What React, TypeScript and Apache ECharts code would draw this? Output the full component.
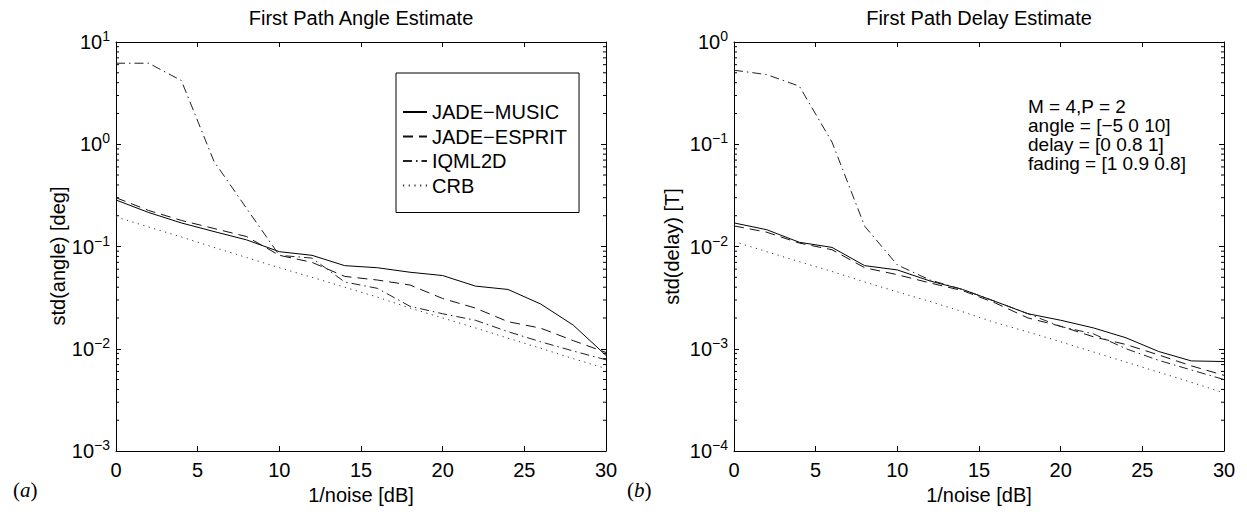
import React, { useEffect, useRef } from 'react';
import * as echarts from 'echarts';

// 1/noise [dB]
const snr = [0, 2, 4, 6, 8, 10, 12, 14, 16, 18, 20, 22, 24, 26, 28, 30];

// (a) First Path Angle Estimate, std(angle) [deg]
const angleMusic = [0.285, 0.215, 0.17, 0.14, 0.116, 0.089, 0.082, 0.065, 0.062, 0.056, 0.052, 0.041, 0.038, 0.0274, 0.017, 0.0086];
const angleEsprit = [0.3, 0.225, 0.18, 0.15, 0.125, 0.082, 0.07, 0.051, 0.047, 0.042, 0.031, 0.025, 0.0184, 0.0159, 0.012, 0.0092];
const angleIqml = [6.2, 6.2, 4.2, 0.68, 0.235, 0.082, 0.077, 0.045, 0.039, 0.026, 0.022, 0.019, 0.0147, 0.0117, 0.0095, 0.0078];
const angleCrb = [0.195, 0.155, 0.124, 0.098, 0.078, 0.062, 0.05, 0.04, 0.032, 0.025, 0.02, 0.016, 0.0127, 0.0101, 0.008, 0.0064];

// (b) First Path Delay Estimate, std(delay) [T]
const delayMusic = [0.017, 0.0146, 0.011, 0.0098, 0.0065, 0.0059, 0.0046, 0.0038, 0.0029, 0.0022, 0.0019, 0.0016, 0.00128, 0.00094, 0.00076, 0.00075];
const delayEsprit = [0.0159, 0.0138, 0.0108, 0.0093, 0.0062, 0.0053, 0.0044, 0.0037, 0.0028, 0.002, 0.00166, 0.00131, 0.0011, 0.00087, 0.00068, 0.00055];
const delayIqml = [0.53, 0.48, 0.37, 0.105, 0.0158, 0.0066, 0.0047, 0.0038, 0.0029, 0.0022, 0.00165, 0.0014, 0.001, 0.00077, 0.00062, 0.0005];
const delayCrb = [0.0112, 0.0089, 0.0071, 0.0057, 0.0045, 0.0036, 0.0029, 0.0023, 0.0018, 0.00146, 0.00117, 0.00093, 0.00074, 0.00059, 0.00047, 0.00037];

const seriesNames = ['JADE−MUSIC', 'JADE−ESPRIT', 'IQML2D', 'CRB'];
const titles = ['First Path Angle Estimate', 'First Path Delay Estimate'];
const yNames = ['std(angle) [deg]', 'std(delay) [T]'];
const xName = '1/noise [dB]';
const panelLetters = ['a', 'b'];
const noteLines = ['M = 4,P = 2', 'angle = [−5 0 10]', 'delay = [0 0.8 1]', 'fading = [1 0.9 0.8]'];
const yRanges = [
  [-3, 1],
  [-4, 0],
];

const FONT = '"Liberation Sans", Arial, Helvetica, sans-serif';
const SERIF = '"Liberation Serif", "DejaVu Serif", serif';

export default function App() {
  const ref = useRef<HTMLDivElement>(null);

  useEffect(() => {
    document.body.style.margin = '0';
    const chart = echarts.init(ref.current!, null, { renderer: 'svg' });

    const grids = [
      { left: 116, top: 42, width: 490, height: 409 },
      { left: 734, top: 42, width: 490, height: 409 },
    ];

    const lineTypes: any[] = ['solid', [10, 6], [9, 4, 1.5, 4], [1.2, 4.5]];
    const colors = ['#000', '#111', '#222', '#333'];

    const xBase = (gi: number, top: boolean) => ({
      type: 'value',
      gridIndex: gi,
      position: top ? 'top' : 'bottom',
      min: 0,
      max: 30,
      interval: 5,
      axisLine: { show: true, onZero: false, lineStyle: { color: '#000', width: 1 } },
      axisTick: { show: true, inside: true, length: 5, lineStyle: { color: '#000', width: 1 } },
      axisLabel: { show: !top, color: '#000', fontSize: 20, fontFamily: FONT, margin: 9 },
      splitLine: { show: false },
      name: top ? '' : xName,
      nameLocation: 'middle',
      nameGap: 33,
      nameTextStyle: { color: '#000', fontSize: 20, fontFamily: FONT },
    });

    const yBase = (gi: number, right: boolean) => ({
      type: 'log',
      logBase: 10,
      gridIndex: gi,
      position: right ? 'right' : 'left',
      min: Math.pow(10, yRanges[gi][0]),
      max: Math.pow(10, yRanges[gi][1]),
      axisLine: { show: true, onZero: false, lineStyle: { color: '#000', width: 1 } },
      axisTick: { show: true, inside: true, length: 5, lineStyle: { color: '#000', width: 1 } },
      axisLabel: {
        show: !right,
        margin: 6,
        formatter: (v: number) => {
          const e = Math.round(Math.log10(v));
          return `{b|10}{s|${e < 0 ? '−' + -e : e}}`;
        },
        rich: {
          b: { fontSize: 20, fontFamily: FONT, color: '#000' },
          s: { fontSize: 14, fontFamily: FONT, color: '#000', padding: [0, 0, 12, 0] },
        },
      },
      splitLine: { show: false },
    });

    const sets = [
      [angleMusic, angleEsprit, angleIqml, angleCrb],
      [delayMusic, delayEsprit, delayIqml, delayCrb],
    ];

    const series: any[] = [];
    sets.forEach((arrs, gi) => {
      arrs.forEach((arr, si) => {
        series.push({
          type: 'line',
          name: seriesNames[si],
          xAxisIndex: gi * 2,
          yAxisIndex: gi * 2,
          data: snr.map((x, i) => [x, arr[i]]),
          symbol: 'none',
          showSymbol: false,
          lineStyle: { color: colors[si], width: 1, type: lineTypes[si] },
          itemStyle: { color: colors[si] },
          z: 3,
        });
      });
    });

    const baseGraphics = (): any[] => {
      const g: any[] = [];
      grids.forEach((gr, gi) => {
        g.push({
          type: 'text',
          x: gr.left + gr.width / 2,
          y: 18,
          style: { text: titles[gi], fontSize: 20, fontFamily: FONT, fill: '#000', align: 'center', verticalAlign: 'middle' },
        });
        g.push({
          type: 'text',
          x: gi === 0 ? 58 : 672,
          y: gi === 0 ? 256 : gr.top + gr.height / 2,
          rotation: Math.PI / 2,
          style: { text: yNames[gi], fontSize: 20, fontFamily: FONT, fill: '#000', align: 'center', verticalAlign: 'middle' },
        });
        g.push({
          type: 'text',
          x: gi === 0 ? 13 : 627,
          y: 490,
          style: {
            text: `{p|(}{i|${panelLetters[gi]}}{p|)}`,
            align: 'left',
            verticalAlign: 'middle',
            rich: {
              p: { fontSize: 21, fontFamily: SERIF, fill: '#000' },
              i: { fontSize: 21, fontFamily: SERIF, fontStyle: 'italic', fill: '#000' },
            },
          },
        });
      });
      noteLines.forEach((t, i) => {
        g.push({
          type: 'text',
          x: 1028,
          y: 106 + i * 19,
          style: { text: t, fontSize: 19, fontFamily: FONT, fill: '#000', align: 'left', verticalAlign: 'middle' },
        });
      });
      return g;
    };

    chart.setOption({
      animation: false,
      backgroundColor: '#fff',
      grid: grids.map((g) => ({ ...g, containLabel: false })),
      xAxis: [xBase(0, false), xBase(0, true), xBase(1, false), xBase(1, true)],
      yAxis: [yBase(0, false), yBase(0, true), yBase(1, false), yBase(1, true)],
      legend: {
        data: seriesNames,
        orient: 'vertical',
        left: 396,
        top: 73,
        borderColor: '#000',
        borderWidth: 1,
        backgroundColor: '#fff',
        padding: [29, 12, 17, 6],
        itemGap: 4.5,
        itemWidth: 24,
        itemHeight: 14,
        selectedMode: false,
        itemStyle: { opacity: 0, borderWidth: 0, color: 'transparent' },
        textStyle: { fontSize: 20, fontFamily: FONT, color: '#000' },
      },
      series,
      graphic: baseGraphics(),
    });

    // minor log ticks, placed with the axes' own scales
    const minor: any[] = [];
    grids.forEach((gr, gi) => {
      const [lo, hi] = yRanges[gi];
      const xl = chart.convertToPixel({ xAxisIndex: gi * 2 } as any, 0) as unknown as number;
      const xr = chart.convertToPixel({ xAxisIndex: gi * 2 } as any, 30) as unknown as number;
      for (let k = lo; k < hi; k++) {
        for (let m = 2; m <= 9; m++) {
          const v = m * Math.pow(10, k);
          const py = chart.convertToPixel({ yAxisIndex: gi * 2 } as any, v) as unknown as number;
          minor.push({ type: 'line', shape: { x1: xl, y1: py, x2: xl + 3, y2: py }, style: { stroke: '#000', lineWidth: 1 } });
          minor.push({ type: 'line', shape: { x1: xr - 3, y1: py, x2: xr, y2: py }, style: { stroke: '#000', lineWidth: 1 } });
        }
      }
    });
    chart.setOption({ graphic: [...baseGraphics(), ...minor] }, { replaceMerge: ['graphic'] } as any);

    return () => chart.dispose();
  }, []);

  return <div ref={ref} style={{ width: 1247, height: 515 }} />;
}
